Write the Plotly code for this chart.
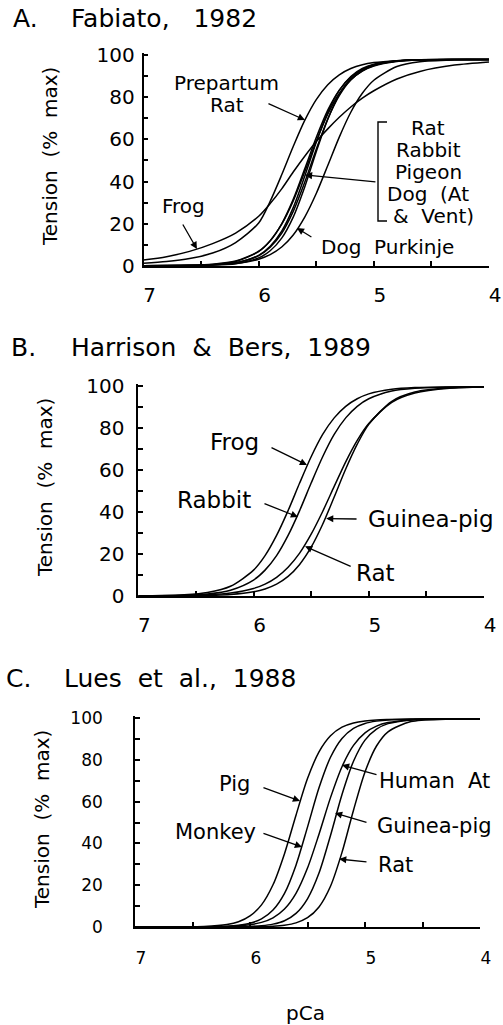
import plotly.graph_objects as go

W, H = 503, 1025
FONT = "DejaVu Sans"

# ---------------- data ----------------
pca_grid = [7.0, 6.8, 6.6, 6.4, 6.2, 6.0, 5.9, 5.8, 5.7, 5.6, 5.5, 5.4, 5.3, 5.2,
            5.1, 5.0, 4.8, 4.6, 4.3, 4.0]
pca_grid_c = [7.0, 6.6, 6.4, 6.2, 6.1, 6.0, 5.9, 5.8, 5.7, 5.6, 5.5, 5.4, 5.3, 5.2,
              5.1, 5.0, 4.9, 4.8, 4.6, 4.3, 4.0]

# Panel A - Fabiato, 1982
a_prepartum_rat = [1.2, 2.0, 3.4, 6.0, 11.0, 20.3, 30.6, 43.2, 56.6, 69.0, 78.9, 86.0,
                   90.7, 93.7, 95.5, 96.5, 97.4, 97.8, 98.0, 98.0]
a_frog = [2.7, 4.3, 6.8, 10.5, 15.5, 23.5, 29.5, 36.5, 44.5, 52.0, 59.0, 65.0, 70.5,
          75.4, 79.6, 83.1, 88.7, 92.3, 95.3, 96.8]
a_rat = [0.01, 0.05, 0.17, 0.60, 2.0, 6.7, 11.8, 19.9, 31.5, 46.0, 60.9, 73.9, 83.4,
         89.6, 93.3, 95.4, 97.2, 97.8, 98.0, 98.0]
a_rabbit = [0.01, 0.02, 0.09, 0.36, 1.35, 4.9, 9.2, 16.4, 27.6, 42.5, 58.7, 72.9, 83.3,
            89.9, 93.7, 95.7, 97.4, 97.9, 98.0, 98.0]
a_pigeon = [0.01, 0.03, 0.11, 0.38, 1.37, 4.8, 8.8, 15.4, 25.8, 39.6, 55.3, 69.7, 80.8,
            88.2, 92.6, 95.1, 97.2, 97.8, 98.0, 98.0]
a_dog_at = [0.02, 0.06, 0.21, 0.68, 2.2, 6.9, 11.9, 19.7, 30.8, 44.6, 59.1, 72.0, 81.8,
            88.4, 92.5, 94.9, 97.0, 97.7, 98.0, 98.0]
a_dog_vent = [0.0, 0.02, 0.06, 0.24, 0.95, 3.7, 7.1, 13.1, 23.1, 37.4, 54.1, 69.6, 81.4,
              88.9, 93.2, 95.5, 97.3, 97.9, 98.0, 98.0]
a_dog_purkinje = [0.01, 0.04, 0.11, 0.34, 1.0, 3.1, 5.3, 8.9, 14.6, 23.1, 34.3, 47.6,
                  61.1, 72.9, 81.9, 88.1, 94.6, 96.9, 97.8, 98.0]

# Panel B - Harrison & Bers, 1989
b_frog = [0.07, 0.2, 0.58, 1.66, 4.64, 12.3, 19.2, 28.8, 40.6, 53.7, 66.2, 76.8, 84.7,
          90.2, 93.8, 96.1, 98.3, 99.1, 99.4, 99.5]
b_rabbit = [0.04, 0.12, 0.34, 0.98, 2.78, 7.6, 12.3, 19.2, 28.8, 40.6, 53.7, 66.2, 76.8,
            84.7, 90.2, 93.8, 97.5, 98.8, 99.4, 99.5]
b_rat = [0.03, 0.08, 0.2, 0.54, 1.39, 3.58, 5.68, 8.9, 13.7, 20.4, 29.4, 40.2, 52.1,
         63.8, 74.0, 82.0, 92.1, 96.5, 98.8, 99.4]
b_guinea_pig = [0.01, 0.03, 0.08, 0.23, 0.68, 1.98, 3.36, 5.63, 9.3, 15.0, 23.2, 34.1,
                47.1, 60.4, 72.2, 81.6, 92.6, 97.0, 99.0, 99.4]

# Panel C - Lues et al., 1988
c_pig = [0.0, 0.06, 0.27, 1.2, 2.5, 5.3, 10.6, 20.2, 35.1, 53.5, 71.0, 83.8, 91.5, 95.6,
         97.6, 98.6, 99.1, 99.3, 99.5, 99.5, 99.5]
c_monkey = [0.0, 0.02, 0.08, 0.38, 0.83, 1.8, 3.86, 8.1, 16.1, 29.6, 47.8, 66.6, 81.2,
            90.2, 95.0, 97.4, 98.5, 99.1, 99.4, 99.5, 99.5]
c_human_at = [0.0, 0.01, 0.06, 0.27, 0.54, 1.1, 2.2, 4.4, 8.6, 16.1, 28.2, 44.4, 61.9,
              76.7, 86.9, 92.9, 96.1, 97.8, 99.1, 99.5, 99.5]
c_guinea_pig = [0.0, 0.0, 0.01, 0.06, 0.12, 0.28, 0.62, 1.37, 3.0, 6.5, 13.5, 25.8, 43.8,
                63.4, 79.3, 89.4, 94.7, 97.3, 99.1, 99.5, 99.5]
c_rat = [0.0, 0.0, 0.0, 0.01, 0.03, 0.07, 0.17, 0.38, 0.88, 1.98, 4.43, 9.6, 19.5, 35.7,
         55.9, 74.2, 86.6, 93.4, 98.3, 99.4, 99.5]

x_tick_vals = [7, 6, 5, 4]
x_minor_vals = [6.5, 5.5, 4.5]
y_tick_vals = [0, 20, 40, 60, 80, 100]
y_title = "Tension\u00a0 (%\u00a0 max)"

# ---------------- layout geometry (pixels of the page) ----------------
panels = [
    dict(x7=143.5, x4=489.0, y0=265.7, y100=55.2, ystand=3, xstand=10, tfs=20),
    dict(x7=138.3, x4=484.0, y0=596.0, y100=385.7, ystand=8, xstand=10, tfs=20),
    dict(x7=135.0, x4=480.0, y0=927.0, y100=718.0, ystand=27, xstand=15, tfs=17),
]
YMAX = 101


def P(px, py):
    return px / W, 1 - py / H


series = [
    (pca_grid, [a_prepartum_rat, a_frog, a_rat, a_rabbit, a_pigeon, a_dog_at,
                a_dog_vent, a_dog_purkinje]),
    (pca_grid, [b_frog, b_rabbit, b_rat, b_guinea_pig]),
    (pca_grid_c, [c_pig, c_monkey, c_human_at, c_guinea_pig, c_rat]),
]

fig = go.Figure()
layout = dict(width=W, height=H,
              margin=dict(l=0, r=0, t=0, b=0, pad=0, autoexpand=False),
              autosize=False,
              paper_bgcolor="white", plot_bgcolor="white", showlegend=False,
              font=dict(family=FONT, color="black"))

for i, p in enumerate(panels):
    sfx = "" if i == 0 else str(i + 1)
    tickfont = dict(family=FONT, size=p["tfs"], color="black")
    ytop = p["y0"] - YMAX / 100 * (p["y0"] - p["y100"])
    layout["xaxis" + sfx] = dict(
        domain=[p["x7"] / W, p["x4"] / W], range=[7, 4], anchor="y" + sfx,
        tickmode="array", tickvals=x_tick_vals, ticktext=[str(v) for v in x_tick_vals],
        ticks="inside", ticklen=5, tickwidth=1.5, tickcolor="black",
        minor=dict(tickmode="array", tickvals=x_minor_vals, ticks="inside",
                   ticklen=5, tickwidth=1.5, tickcolor="black"),
        showline=True, linewidth=1.6, linecolor="black", showgrid=False,
        zeroline=False, tickfont=tickfont, ticklabelstandoff=p["xstand"],
        ticklabelshift=-6, automargin=False, fixedrange=True)
    layout["yaxis" + sfx] = dict(
        domain=[1 - p["y0"] / H, 1 - ytop / H], range=[0, YMAX], anchor="x" + sfx,
        tickmode="array", tickvals=y_tick_vals,
        ticks="inside", ticklen=5, tickwidth=1.5, tickcolor="black",
        minor=dict(dtick=10, tick0=0, ticks="inside", ticklen=5, tickwidth=1.5,
                   tickcolor="black"),
        showline=True, linewidth=1.6, linecolor="black", showgrid=False,
        zeroline=False, tickfont=tickfont, ticklabelstandoff=p["ystand"],
        automargin=False, fixedrange=True)
    grid, curves = series[i]
    for vals in curves:
        fig.add_trace(go.Scatter(
            x=grid, y=vals, mode="lines", xaxis="x" + sfx, yaxis="y" + sfx,
            line=dict(color="black", width=1.5, shape="spline", smoothing=0.8),
            hoverinfo="skip", showlegend=False))

annotations = []


def text(px, py, s, size=20, xanchor="center", angle=0):
    x, y = P(px, py)
    annotations.append(dict(x=x, y=y, xref="paper", yref="paper", text=s,
                            showarrow=False, xanchor=xanchor, yanchor="middle",
                            textangle=angle,
                            font=dict(family=FONT, size=size, color="black")))


def arrow(ax_id, tail, tip):
    annotations.append(dict(x=tip[0], y=tip[1], ax=tail[0], ay=tail[1],
                            xref="x" + ax_id, yref="y" + ax_id,
                            axref="x" + ax_id, ayref="y" + ax_id,
                            text="", showarrow=True, arrowhead=2, arrowsize=1.1,
                            arrowwidth=1.3, arrowcolor="black", standoff=0))


NB = "\u00a0"
# titles
text(11, 18, "A.", 25, "left")
text(69, 18, f"Fabiato,{NB}{NB}{NB}1982", 25, "left")
text(9, 347, "B.", 25, "left")
text(69, 347, f"Harrison{NB}{NB}&{NB}{NB}Bers,{NB}{NB}1989", 25, "left")
text(4, 678, "C.", 25, "left")
text(62, 678, f"Lues{NB}{NB}et{NB}{NB}al.,{NB}{NB}1988", 25, "left")

# y titles
text(50, 157, y_title, 20, angle=-90)
text(45, 488, y_title, 20, angle=-90)
text(42, 820, y_title, 20, angle=-90)
# x title
text(305, 1013, "pCa", 20)

# Panel A labels
FA = 20
text(226, 83, "Prepartum", FA)
text(227, 105, "Rat", FA)
arrow("", (5.928, 77.3), (5.598, 69.2))
text(183, 206, "Frog", FA)
arrow("", (6.666, 20.3), (6.536, 7.9))
for s, xx, yy in [("Rat", 428, 128), ("Rabbit", 428, 150), ("Pigeon", 428, 172),
                  (f"Dog{NB}{NB}(At", 428, 194), (f"&{NB}{NB}Vent)", 433, 216)]:
    text(xx, yy, s, FA)
arrow("", (4.973, 39.8), (5.598, 43.1))
text(387, 247, f"Dog{NB}{NB}Purkinje", FA)
arrow("", (5.529, 13.2), (5.668, 17.9))

# Panel B labels
FB = 23
text(234, 442, "Frog", FB)
arrow("2", (5.857, 70.9), (5.536, 62.3))
text(214, 500, "Rabbit", FB)
arrow("2", (5.918, 44.2), (5.614, 37.6))
text(431, 519, "Guinea-pig", FB)
arrow("2", (5.093, 36.6), (5.37, 36.8))
text(375, 573, "Rat", FB)
arrow("2", (5.144, 13.8), (5.553, 23.6))

# Panel C labels
FC = 21
text(234, 784, "Pig", FC)
arrow("3", (5.896, 67.0), (5.565, 60.3))
text(215, 832, "Monkey", FC)
arrow("3", (5.896, 45.0), (5.548, 38.3))
text(434, 781, f"Human{NB}{NB}At", FC)
arrow("3", (4.887, 72.7), (5.2, 77.5))
text(434, 826, "Guinea-pig", FC)
arrow("3", (4.974, 49.8), (5.261, 54.5))
text(395, 865, "Rat", FC)
arrow("3", (4.974, 31.1), (5.225, 32.5))

layout["annotations"] = annotations

# bracket in panel A
bx0, by0 = P(378, 122)
bx1, by1 = P(387, 221)
layout["shapes"] = [dict(type="path", xref="paper", yref="paper",
                         path=f"M {bx1} {by0} L {bx0} {by0} L {bx0} {by1} L {bx1} {by1}",
                         line=dict(color="black", width=1.4))]

fig.update_layout(**layout)
fig.write_html("out.html")
